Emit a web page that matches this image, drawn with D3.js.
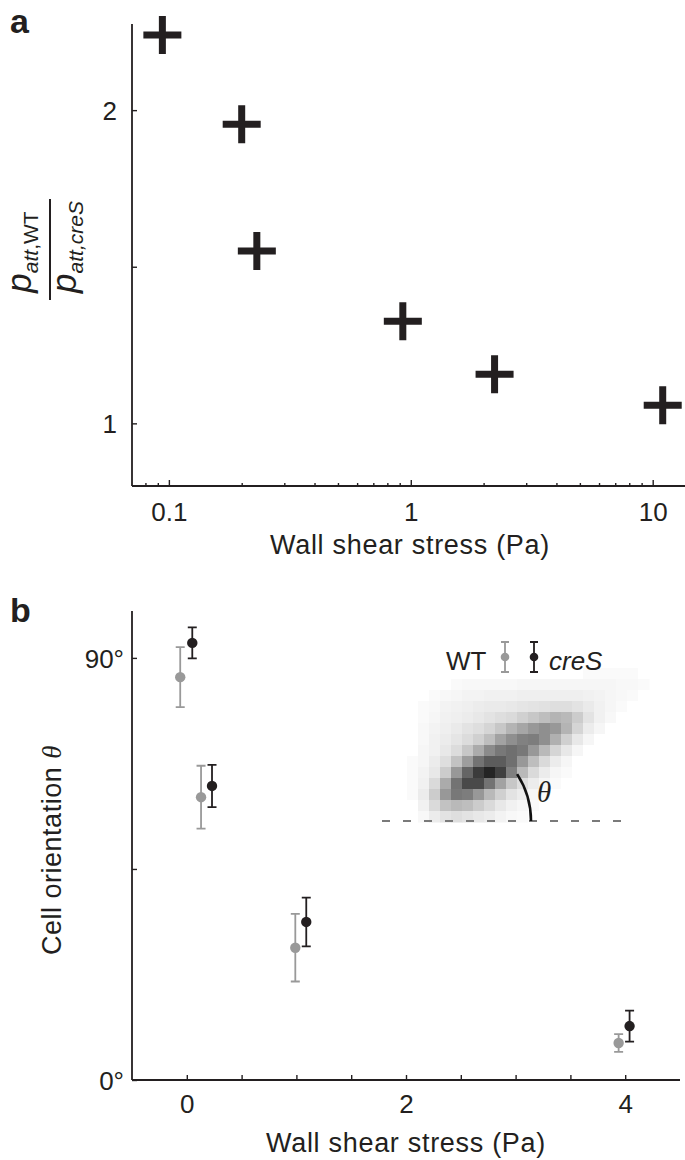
<!DOCTYPE html>
<html>
<head>
<meta charset="utf-8">
<script src="https://cdn.jsdelivr.net/npm/d3@7"></script>
<style>
  html, body { margin: 0; padding: 0; background: #fff; }
  svg { display: block; }
  text { font-family: "Liberation Sans", Arial, Helvetica, sans-serif; fill: #231f20; }
</style>
</head>
<body>
<svg id="chart" width="685" height="1160"></svg>
<script>
// ---------------- DATA ----------------
// Panel a: ratio p_att,WT / p_att,creS vs wall shear stress (log x)
const aShear = [0.094, 0.20, 0.231, 0.927, 2.22, 11.0];
const aRatio = [2.24, 1.955, 1.55, 1.326, 1.157, 1.058];
const aXMajorTicks = [0.1, 1, 10];
const aXTickLabels = ["0.1", "1", "10"];
const aXMinorTicks = [0.08, 0.09, 0.2, 0.3, 0.4, 0.5, 0.6, 0.7, 0.8, 0.9, 2, 3, 4, 5, 6, 7, 8, 9];
const aYTicks = [1, 1.5, 2];
const aYTickLabels = ["1", "", "2"];

// Panel b: cell orientation (degrees) vs wall shear stress
const bSeries = ["WT", "creS"];
const bWTShear = [-0.06, 0.13, 0.99, 3.94];
const bWTAngle = [85.9, 60.3, 28.2, 7.9];
const bWTErr = [6.4, 6.7, 7.2, 1.9];
const bCreSShear = [0.05, 0.23, 1.09, 4.04];
const bCreSAngle = [93.2, 62.7, 33.7, 11.5];
const bCreSErr = [3.3, 4.5, 5.2, 3.3];
const bXTicks = [0, 0.5, 1, 1.5, 2, 2.5, 3, 3.5, 4];
const bXTickLabels = ["0", "", "", "", "2", "", "", "", "4"];
const bYTicks = [0, 45, 90];
const bYTickLabels = ["0°", "", "90°"];

// Inset: 2D histogram of cell orientation (darkness %, rows top->bottom)
const insetCells = [
  [0,0,0,0,0,0,0,0,0,0,0,0,0,0,0,0,2,2,2,2,2,0],
  [0,0,0,0,2,3,3,3,3,3,4,4,4,4,4,4,4,4,4,3,3,2],
  [0,0,2,3,4,5,5,6,6,6,7,7,7,7,7,7,6,5,4,3,2,0],
  [0,2,3,5,6,7,8,9,9,10,11,12,13,14,14,12,9,6,4,2,0,0],
  [0,2,4,6,7,8,10,12,14,16,20,24,28,32,30,22,12,6,3,0,0,0],
  [0,3,5,7,9,12,14,18,24,32,38,44,48,44,32,18,8,4,0,0,0,0],
  [0,3,6,8,11,15,20,28,40,48,54,56,48,34,20,10,4,0,0,0,0,0],
  [0,4,6,10,15,24,36,50,58,62,58,44,30,18,10,4,0,0,0,0,0,0],
  [2,4,8,14,26,42,60,70,70,62,44,28,16,8,4,0,0,0,0,0,0,0],
  [2,5,10,22,44,66,84,94,82,55,30,16,8,4,2,0,0,0,0,0,0,0],
  [2,6,16,36,60,78,78,60,40,24,14,8,4,2,0,0,0,0,0,0,0,0],
  [2,8,22,44,58,56,44,30,20,12,8,4,2,0,0,0,0,0,0,0,0,0],
  [0,6,16,26,30,28,22,16,10,6,4,2,0,0,0,0,0,0,0,0,0,0],
  [0,3,8,12,14,12,10,8,5,3,2,0,0,0,0,0,0,0,0,0,0,0]
];
const insetAngleDeg = 33;

// ---------------- LAYOUT ----------------
const INK = "#231f20";
const GREY = "#999999";
const svg = d3.select("#chart");

// ===== Panel a =====
const xA = d3.scaleLog().domain([0.0704, 13.6]).range([132, 685]);
const yA = d3.scaleLinear().domain([0.8, 2.275]).range([486, 24]);
const gA = svg.append("g");

gA.append("line").attr("x1", xA.range()[0]).attr("x2", xA.range()[1])
  .attr("y1", yA(0.8)).attr("y2", yA(0.8)).attr("stroke", INK).attr("stroke-width", 1.8);
gA.append("line").attr("x1", xA.range()[0]).attr("x2", xA.range()[0])
  .attr("y1", yA.range()[0]).attr("y2", yA.range()[1]).attr("stroke", INK).attr("stroke-width", 1.8);

const axAxMinor = gA.append("g").attr("transform", `translate(0,${yA(0.8)})`)
  .call(d3.axisBottom(xA).tickValues(aXMinorTicks).tickSize(-3).tickFormat(""));
const axAxMajor = gA.append("g").attr("transform", `translate(0,${yA(0.8)})`)
  .call(d3.axisBottom(xA).tickValues(aXMajorTicks).tickSize(-6)
        .tickFormat((d, i) => aXTickLabels[i]));
[axAxMinor, axAxMajor].forEach(g => {
  g.select(".domain").remove();
  g.selectAll("line").attr("stroke", INK).attr("stroke-width", 1.4);
});
axAxMajor.selectAll("text").attr("y", 35).attr("dy", null)
  .style("font-size", "26px").attr("fill", INK);

const axAy = gA.append("g").attr("transform", `translate(${xA.range()[0]},0)`)
  .call(d3.axisLeft(yA).tickValues(aYTicks).tickSize(-5)
        .tickFormat((d, i) => aYTickLabels[i]));
axAy.select(".domain").remove();
axAy.selectAll("line").attr("stroke", INK).attr("stroke-width", 1.4);
axAy.selectAll("text").attr("x", -15).attr("dy", "0.36em")
  .style("font-size", "26px").attr("fill", INK);

const crossHalf = 19;
gA.selectAll("path.cross").data(aShear).join("path")
  .attr("class", "cross")
  .attr("d", (d, i) => {
    const cx = xA(d), cy = yA(aRatio[i]);
    return `M${cx - crossHalf},${cy}H${cx + crossHalf}M${cx},${cy - crossHalf}V${cy + crossHalf}`;
  })
  .attr("stroke", INK).attr("stroke-width", 7).attr("fill", "none");

gA.append("text").attr("x", 410).attr("y", 554).attr("text-anchor", "middle")
  .style("font-size", "27px").style("letter-spacing", "0.7px")
  .text("Wall shear stress (Pa)");

const num = gA.append("text").attr("transform", "translate(31,252) rotate(-90)")
  .attr("text-anchor", "middle");
num.append("tspan").style("font-style", "italic").style("font-size", "35px").text("p");
num.append("tspan").style("font-style", "italic").style("font-size", "21px").attr("dy", 7).text("att");
num.append("tspan").style("font-size", "21px").text(",WT");
const den = gA.append("text").attr("transform", "translate(76,247) rotate(-90)")
  .attr("text-anchor", "middle");
den.append("tspan").style("font-style", "italic").style("font-size", "35px").text("p");
den.append("tspan").style("font-style", "italic").style("font-size", "21px").attr("dy", 7).text("att,creS");
gA.append("line").attr("x1", 50).attr("x2", 50).attr("y1", 199).attr("y2", 300)
  .attr("stroke", INK).attr("stroke-width", 2);

svg.append("text").attr("x", 10).attr("y", 33).style("font-size", "34px")
  .style("font-weight", "bold").text("a");

// ===== Panel b =====
const xB = d3.scaleLinear().domain([-0.5, 4.5]).range([132, 680]);
const yB = d3.scaleLinear().domain([0, 100]).range([1080, 611]);
const gB = svg.append("g");

const nRows = insetCells.length, nCols = insetCells[0].length;
const xI = d3.scaleBand().domain(d3.range(nCols)).range([407, 649]);
const yI = d3.scaleBand().domain(d3.range(nRows)).range([668, 822]);
const cI = d3.scaleLinear().domain([0, 100]).range(["#ffffff", "#161616"]);
const cellData = [];
insetCells.forEach((row, r) => row.forEach((v, c) => cellData.push({r, c, v})));
gB.append("g").selectAll("rect").data(cellData).join("rect")
  .attr("x", d => xI(d.c)).attr("y", d => yI(d.r))
  .attr("width", xI.bandwidth() + 0.5).attr("height", yI.bandwidth() + 0.5)
  .attr("fill", d => cI(d.v));

gB.append("line").attr("x1", 382).attr("x2", 630).attr("y1", 821).attr("y2", 821)
  .attr("stroke", "#7a7a7a").attr("stroke-width", 2).attr("stroke-dasharray", "8,13");
const arcCx = 445, arcCy = 821, arcR = 86;
const ap = d3.path();
ap.arc(arcCx, arcCy, arcR, 0, -insetAngleDeg * Math.PI / 180, true);
gB.append("path").attr("d", ap.toString()).attr("fill", "none")
  .attr("stroke", "#111").attr("stroke-width", 2.6);
gB.append("text").attr("x", 537).attr("y", 802)
  .style("font-family", "'Liberation Serif', 'DejaVu Serif', serif")
  .style("font-style", "italic").style("font-size", "29px").text("θ");

gB.append("line").attr("x1", 132).attr("x2", 680).attr("y1", yB(0)).attr("y2", yB(0))
  .attr("stroke", INK).attr("stroke-width", 1.8);
gB.append("line").attr("x1", 132).attr("x2", 132).attr("y1", yB(0)).attr("y2", yB(100))
  .attr("stroke", INK).attr("stroke-width", 1.8);

const axBx = gB.append("g").attr("transform", `translate(0,${yB(0)})`)
  .call(d3.axisBottom(xB).tickValues(bXTicks).tickSize(-5)
        .tickFormat((d, i) => bXTickLabels[i]));
axBx.select(".domain").remove();
axBx.selectAll("line").attr("stroke", INK).attr("stroke-width", 1.4);
axBx.selectAll("text").attr("y", 33).attr("dy", null)
  .style("font-size", "26px").attr("fill", INK);

const axBy = gB.append("g").attr("transform", "translate(132,0)")
  .call(d3.axisLeft(yB).tickValues(bYTicks).tickSize(-5)
        .tickFormat((d, i) => bYTickLabels[i]));
axBy.select(".domain").remove();
axBy.selectAll("line").attr("stroke", INK).attr("stroke-width", 1.4);
axBy.selectAll("text").attr("x", -8).attr("dy", "0.36em")
  .style("font-size", "26px").attr("fill", INK);

function drawSeries(xs, ys, es, color, r) {
  const g = gB.append("g");
  const cap = 4.5;
  g.selectAll("path").data(xs).join("path")
    .attr("d", (d, i) => {
      const x = xB(d), y1 = yB(ys[i] + es[i]), y2 = yB(ys[i] - es[i]);
      return `M${x},${y1}V${y2}M${x - cap},${y1}H${x + cap}M${x - cap},${y2}H${x + cap}`;
    })
    .attr("stroke", color).attr("stroke-width", 1.8).attr("fill", "none");
  g.selectAll("circle").data(xs).join("circle")
    .attr("cx", d => xB(d)).attr("cy", (d, i) => yB(ys[i]))
    .attr("r", r).attr("fill", color);
}
drawSeries(bWTShear, bWTAngle, bWTErr, GREY, 5.2);
drawSeries(bCreSShear, bCreSAngle, bCreSErr, INK, 5.2);

const leg = gB.append("g");
leg.append("text").attr("x", 446).attr("y", 670).style("font-size", "26px").text(bSeries[0]);
function legSym(x, color) {
  const yc = 657, h = 15, cap = 4;
  leg.append("path").attr("d", `M${x},${yc - h}V${yc + h}M${x - cap},${yc - h}H${x + cap}M${x - cap},${yc + h}H${x + cap}`)
    .attr("stroke", color).attr("stroke-width", 1.8).attr("fill", "none");
  leg.append("circle").attr("cx", x).attr("cy", yc).attr("r", 4.3).attr("fill", color);
}
legSym(505, GREY);
legSym(534, INK);
leg.append("text").attr("x", 549).attr("y", 670).style("font-size", "26px")
  .style("font-style", "italic").text(bSeries[1]);

gB.append("text").attr("x", 406).attr("y", 1152).attr("text-anchor", "middle")
  .style("font-size", "27px").style("letter-spacing", "0.7px")
  .text("Wall shear stress (Pa)");
const yt = gB.append("text").attr("transform", "translate(61,850) rotate(-90)")
  .attr("text-anchor", "middle").style("font-size", "27px").style("letter-spacing", "0.5px");
yt.append("tspan").text("Cell orientation ");
yt.append("tspan").style("font-family", "'Liberation Serif', 'DejaVu Serif', serif")
  .style("font-style", "italic").text("θ");

svg.append("text").attr("x", 10).attr("y", 622).style("font-size", "34px")
  .style("font-weight", "bold").text("b");
</script>
</body>
</html>
